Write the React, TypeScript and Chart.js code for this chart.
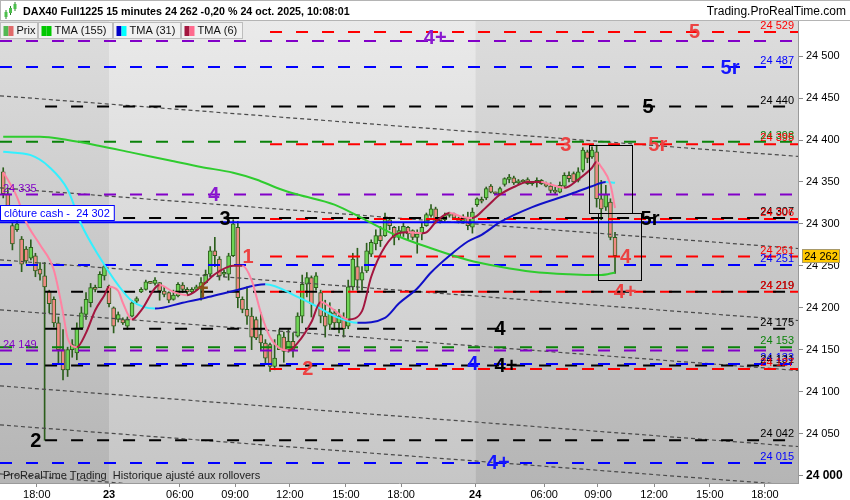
import React, { useEffect, useRef } from 'react';
import { Chart, registerables } from 'chart.js';

Chart.register(...registerables);

const FONT = '"Liberation Sans", Arial, Helvetica, sans-serif';

// ---------- price bars (15 minutes), index 0 = 22 oct 16:00 ----------
const candleOpen = [
  24362, 24336, 24298, 24293, 24282, 24270, 24259, 24262, 24246, 24238, 24220, 24210, 24182, 24150, 24126, 24150, 24146, 24176, 24192, 24206, 24224, 24224, 24238, 24226,
  24200, 24186, 24186, 24178, 24190, 24208, 24219, 24222, 24230, 24229, 24230, 24220, 24218, 24210, 24214, 24227, 24222, 24219, 24222, 24225, 24230, 24240, 24268, 24258, 24240, 24240,
  24262, 24296, 24210, 24198, 24190, 24186, 24168, 24158, 24156, 24130, 24150, 24165, 24150, 24160, 24166, 24190, 24228, 24236, 24224, 24218, 24190, 24180, 24194, 24182, 24188,
  24178, 24225, 24249, 24233, 24244, 24264, 24276, 24286, 24286, 24305, 24296, 24284, 24290, 24296, 24292, 24284, 24288, 24298, 24310, 24318, 24306, 24305, 24310, 24312, 24307,
  24303, 24308, 24296,
  24323, 24329, 24331, 24345, 24337, 24336, 24347, 24353, 24355, 24349, 24351, 24353, 24348, 24349, 24352, 24348, 24345, 24340, 24338, 24345, 24358, 24360, 24352, 24364,
  24386, 24380, 24386, 24330, 24320, 24326, 24284,
];
const candleHigh = [
  24367, 24341, 24301, 24305, 24285, 24273, 24281, 24265, 24254, 24254, 24221, 24213, 24189, 24174, 24153, 24162, 24182, 24201, 24218, 24229, 24227, 24243, 24251, 24227,
  24201, 24195, 24188, 24189, 24209, 24213, 24224, 24233, 24231, 24236, 24230, 24225, 24219, 24221, 24230, 24230, 24224, 24224, 24227, 24236, 24245, 24273, 24284, 24261, 24245, 24265,
  24305, 24303, 24213, 24225, 24200, 24189, 24194, 24162, 24158, 24162, 24174, 24171, 24174, 24170, 24194, 24239, 24242, 24238, 24242, 24221, 24209, 24206, 24198, 24198, 24194,
  24233, 24265, 24271, 24249, 24277, 24281, 24293, 24297, 24313, 24308, 24297, 24297, 24301, 24297, 24293, 24293, 24301, 24313, 24323, 24320, 24308, 24313, 24314, 24313, 24308,
  24311, 24314, 24319,
  24331, 24332, 24344, 24347, 24338, 24344, 24355, 24359, 24357, 24353, 24353, 24355, 24350, 24355, 24353, 24350, 24349, 24344, 24350, 24361, 24362, 24362, 24367, 24391,
  24388, 24392, 24394, 24352, 24346, 24330, 24290,
];
const candleLow = [
  24331, 24313, 24269, 24291, 24243, 24253, 24257, 24237, 24233, 24042, 24194, 24177, 24134, 24114, 24118, 24141, 24138, 24174, 24186, 24201, 24219, 24224, 24233, 24201,
  24170, 24183, 24180, 24174, 24189, 24206, 24218, 24221, 24229, 24227, 24209, 24213, 24206, 24209, 24213, 24218, 24215, 24218, 24221, 24209, 24229, 24237, 24249, 24233, 24237, 24233,
  24261, 24200, 24194, 24180, 24150, 24162, 24150, 24134, 24124, 24126, 24150, 24135, 24147, 24141, 24165, 24182, 24213, 24189, 24221, 24182, 24165, 24174, 24174, 24170, 24165,
  24175, 24221, 24221, 24221, 24242, 24261, 24269, 24273, 24285, 24293, 24275, 24281, 24285, 24281, 24281, 24265, 24281, 24297, 24308, 24301, 24301, 24303, 24308, 24305, 24301,
  24301, 24293, 24289,
  24321, 24325, 24329, 24337, 24335, 24335, 24345, 24349, 24347, 24347, 24349, 24347, 24346, 24344, 24347, 24344, 24337, 24335, 24337, 24343, 24350, 24349, 24350, 24362,
  24373, 24378, 24320, 24305, 24316, 24281, 24241,
];
const candleClose = [
  24336, 24318, 24276, 24300, 24252, 24256, 24272, 24244, 24240, 24225, 24205, 24182, 24150, 24126, 24150, 24156, 24176, 24194, 24210, 24224, 24222, 24240, 24249, 24205,
  24178, 24192, 24182, 24186, 24206, 24211, 24222, 24231, 24229, 24233, 24220, 24216, 24209, 24215, 24228, 24222, 24219, 24222, 24225, 24230, 24240, 24268, 24262, 24238, 24242, 24262,
  24300, 24212, 24198, 24190, 24165, 24164, 24158, 24140, 24130, 24140, 24168, 24148, 24160, 24150, 24190, 24228, 24236, 24205, 24238, 24190, 24178, 24195, 24182, 24190, 24175,
  24225, 24258, 24233, 24242, 24268, 24278, 24286, 24280, 24306, 24298, 24284, 24292, 24297, 24288, 24284, 24288, 24296, 24311, 24318, 24306, 24304, 24310, 24312, 24307, 24303,
  24308, 24298, 24314,
  24330, 24327, 24342, 24338, 24336, 24342, 24354, 24356, 24349, 24351, 24350, 24348, 24349, 24352, 24348, 24345, 24340, 24338, 24346, 24358, 24354, 24350, 24362, 24388,
  24378, 24388, 24330, 24318, 24335, 24284, 24262,
];

// ---------- moving averages (read at bar indices) ----------
const tma6Bar = [0, 3, 5, 8, 11, 13, 14, 16, 18, 20, 22, 23, 25, 26, 28, 30, 34, 37, 40, 43, 46, 50, 52, 54, 56, 58, 60, 62, 64, 67, 69, 72, 75, 78, 80, 83, 86, 88, 91, 92, 94, 97, 100, 102, 105, 108, 111, 114, 117, 119, 122, 125, 128, 129, 130, 132, 133];
const tma6Val = [24362, 24332, 24302, 24275, 24245, 24194, 24164, 24153, 24170, 24197, 24215, 24225, 24220, 24206, 24186, 24197, 24227, 24219, 24215, 24225, 24240, 24250, 24250, 24233, 24194, 24165, 24152, 24149, 24158, 24183, 24207, 24197, 24186, 24196, 24237, 24273, 24289, 24290, 24289, 24290, 24302, 24313, 24308, 24307, 24320, 24335, 24344, 24350, 24350, 24347, 24343, 24353, 24367, 24374, 24368, 24347, 24319];
const tma31Bar = [0, 6, 10, 14, 17, 21, 25, 28, 33, 39, 44, 50, 57, 64, 68, 72, 77, 83, 86, 90, 93, 97, 101, 104, 108, 115, 123, 128, 131, 133];
const tma31Val = [24386, 24382, 24368, 24341, 24299, 24260, 24227, 24208, 24199, 24206, 24212, 24220, 24228, 24213, 24202, 24190, 24182, 24188, 24205, 24223, 24242, 24262, 24279, 24287, 24302, 24320, 24335, 24345, 24350, 24349];
const tma155Bar = [0, 8, 14, 21, 28, 36, 43, 50, 55, 60, 64, 72, 79, 86, 93, 101, 108, 115, 123, 130, 133];
const tma155Val = [24404, 24404, 24400, 24393, 24385, 24376, 24368, 24361, 24353, 24342, 24335, 24323, 24304, 24285, 24271, 24257, 24249, 24243, 24240, 24239, 24242];

// ---------- axes ----------
const xTickValues = [8, 23.7, 39.1, 51.1, 63, 75.2, 87.2, 103.3, 118.3, 130, 142.2, 154.3, 166.3];
const xTickLabels = ['18:00', '23', '06:00', '09:00', '12:00', '15:00', '18:00', '24', '06:00', '09:00', '12:00', '15:00', '18:00'];
const yTickValues = [24000, 24050, 24100, 24150, 24200, 24250, 24300, 24350, 24400, 24450, 24500];
const sessionBreaks = [23.7, 103.3];

// ---------- horizontal levels ----------
const levelValue = [24529, 24518, 24487, 24440, 24398, 24395, 24335, 24307, 24306, 24302, 24261, 24251, 24219, 24219, 24175, 24153, 24149, 24133, 24131, 24127, 24042, 24015];
const levelKind = ['red', 'purple', 'blue', 'black', 'green', 'red', 'purple', 'black', 'red', 'cash', 'red', 'blue', 'black', 'red', 'black', 'green', 'purple', 'blue', 'black', 'red', 'black', 'blue'];
const levelFromBar = [58.7, 0, 0, 9.8, 0, 58.7, 0, 9.8, 58.7, 0, 58.7, 0, 9.8, 58.7, 9.8, 0, 0, 0, 9.8, 58.7, 9.8, 0];
const levelTag = ['right', 'none', 'right', 'right', 'right', 'right', 'left', 'right', 'right', 'cash', 'right', 'right', 'right', 'right', 'right', 'right', 'left', 'right', 'right', 'right', 'right', 'right'];

// ---------- channel lines ----------
const trendStartValue = [24452.8, 24343.0, 24257.1, 24197.5, 24106.8, 24060.3, 24001.8];
const trendEndValue = [24380.5, 24270.7, 24184.8, 24125.2, 24034.5, 23988.0, 23929.5];

// ---------- wave labels ----------
const waveText = ['4+', '5', '5r', '5', '3', '5r', '4', '3', '5r', '1', '4', '4+', '4', '4', '4+', '2', '2', '4+'];
const waveKind = ['purple', 'red', 'blue', 'black', 'red', 'red', 'purple', 'black', 'black', 'red', 'red', 'red', 'black', 'blue', 'black', 'red', 'black', 'blue'];
const waveBar = [94.6, 151, 158.7, 140.9, 123, 143, 46.5, 48.9, 141.3, 53.9, 136, 135.9, 108.7, 102.8, 110, 66.9, 7.8, 108.3];
const wavePrice = [24522, 24529, 24487, 24440, 24395, 24395, 24335, 24307, 24307, 24261, 24261, 24219, 24175, 24133, 24131, 24127, 24042, 24015];

// ---------- boxes ----------
const boxFromBar = [128.0, 130.0];
const boxToBar = [137.4, 139.3];
const boxTop = [24394, 24313];
const boxBottom = [24313, 24233];

const markBar = 44.1;
const markTop = 24230;
const markBottom = 24212;
const markCross = 24224;

const X_MAX = 173.48;
const Y_MIN = 23991;
const Y_MAX = 24542;
const BAR_OFFSET = 0.7;

const LINE_COLOR: Record<string, string> = {
  red: '#ff0000', black: '#000000', blue: '#0000ff', green: '#0a820a', purple: '#8200c8', cash: '#0000ff',
};
const WAVE_COLOR: Record<string, string> = {
  red: '#ec4242', black: '#000000', blue: '#1414ff', purple: '#8a1ad0',
};
const UP = '#6fd456';
const DOWN = '#f08a84';
const OUTLINE = '#2c5e1c';

const fmt = (v: number) => {
  const s = String(Math.round(v));
  return s.slice(0, s.length - 3) + ' ' + s.slice(-3);
};

const prtPlugin = {
  id: 'prt',
  beforeDraw(chart: any) {
    const { ctx, chartArea: a, scales } = chart;
    const x = scales.x;
    ctx.save();
    ctx.fillStyle = '#ffffff';
    ctx.fillRect(0, 0, chart.width, chart.height);
    const dark = ctx.createLinearGradient(0, a.top, 0, a.bottom);
    dark.addColorStop(0, '#dddddd');
    dark.addColorStop(1, '#b5b5b5');
    const light = ctx.createLinearGradient(0, a.top, 0, a.bottom);
    light.addColorStop(0, '#eaeaea');
    light.addColorStop(1, '#c6c6c6');
    const b1 = x.getPixelForValue(sessionBreaks[0]);
    const b2 = x.getPixelForValue(sessionBreaks[1]);
    ctx.fillStyle = dark;
    ctx.fillRect(a.left, a.top, b1 - a.left, a.bottom - a.top);
    ctx.fillRect(b2, a.top, a.right - b2, a.bottom - a.top);
    ctx.fillStyle = light;
    ctx.fillRect(b1, a.top, b2 - b1, a.bottom - a.top);
    ctx.restore();
  },
  afterDatasetsDraw(chart: any) {
    const { ctx, chartArea: a, scales } = chart;
    const x = scales.x;
    const y = scales.y;
    ctx.save();
    ctx.beginPath();
    ctx.rect(a.left, a.top, a.right - a.left, a.bottom - a.top);
    ctx.clip();

    // boxes
    ctx.strokeStyle = '#000';
    ctx.lineWidth = 1;
    for (let i = 0; i < boxFromBar.length; i++) {
      const x1 = Math.round(x.getPixelForValue(boxFromBar[i])) + 0.5;
      const x2 = Math.round(x.getPixelForValue(boxToBar[i])) + 0.5;
      const y1 = Math.round(y.getPixelForValue(boxTop[i])) + 0.5;
      const y2 = Math.round(y.getPixelForValue(boxBottom[i])) + 0.5;
      ctx.strokeRect(x1, y1, x2 - x1, y2 - y1);
    }

    // brown mark
    const mx = x.getPixelForValue(markBar);
    ctx.strokeStyle = '#8a5418';
    ctx.lineWidth = 2.5;
    ctx.beginPath();
    ctx.moveTo(mx, y.getPixelForValue(markTop));
    ctx.lineTo(mx, y.getPixelForValue(markBottom));
    ctx.moveTo(mx - 5, y.getPixelForValue(markCross));
    ctx.lineTo(mx + 5, y.getPixelForValue(markCross));
    ctx.stroke();

    // level labels
    ctx.font = `11px ${FONT}`;
    ctx.textBaseline = 'alphabetic';
    for (let i = 0; i < levelValue.length; i++) {
      const py = y.getPixelForValue(levelValue[i]);
      const col = LINE_COLOR[levelKind[i]];
      if (levelTag[i] === 'right') {
        ctx.fillStyle = col;
        ctx.textAlign = 'right';
        ctx.fillText(fmt(levelValue[i]), a.right - 4, py - 3);
      } else if (levelTag[i] === 'left') {
        ctx.fillStyle = col;
        ctx.textAlign = 'left';
        ctx.fillText(fmt(levelValue[i]), a.left + 3, py - 3);
      } else if (levelTag[i] === 'cash') {
        const txt = 'clôture cash -  ' + fmt(levelValue[i]);
        const w = ctx.measureText(txt).width;
        const top = Math.round(py) - 16.5;
        ctx.fillStyle = '#ffffff';
        ctx.fillRect(a.left + 0.5, top, w + 8, 15);
        ctx.strokeStyle = '#0000ff';
        ctx.lineWidth = 1;
        ctx.strokeRect(a.left + 0.5, top, w + 8, 15);
        ctx.fillStyle = '#0000ff';
        ctx.textAlign = 'left';
        ctx.fillText(txt, a.left + 4, top + 11.5);
      }
    }

    // wave labels
    ctx.font = `bold 20px ${FONT}`;
    ctx.textAlign = 'center';
    ctx.textBaseline = 'middle';
    for (let i = 0; i < waveText.length; i++) {
      ctx.fillStyle = WAVE_COLOR[waveKind[i]];
      ctx.fillText(waveText[i], x.getPixelForValue(waveBar[i]), y.getPixelForValue(wavePrice[i]) + 1);
    }

    // footer text
    ctx.font = `11px ${FONT}`;
    ctx.textAlign = 'left';
    ctx.textBaseline = 'middle';
    ctx.fillStyle = '#222';
    ctx.fillText('ProRealTime Trading  Historique ajusté aux rollovers', a.left + 3, a.bottom - 7);
    ctx.restore();
  },
  afterDraw(chart: any) {
    const { ctx, scales } = chart;
    const y = scales.y;
    ctx.save();
    // header bar
    ctx.fillStyle = '#ffffff';
    ctx.fillRect(0, 0, chart.width, 21);
    ctx.strokeStyle = '#b4b4b4';
    ctx.lineWidth = 1;
    ctx.beginPath();
    ctx.moveTo(0, 0.5); ctx.lineTo(chart.width, 0.5);
    ctx.moveTo(0, 20.5); ctx.lineTo(chart.width, 20.5);
    ctx.moveTo(0.5, 0); ctx.lineTo(0.5, 21);
    ctx.stroke();
    // icon
    const icon = [[6, 10, 19, 12, 17], [10.5, 6, 15, 8, 13], [15, 2, 11, 4, 9]];
    for (const c of icon) {
      ctx.strokeStyle = '#2b7a2b';
      ctx.beginPath();
      ctx.moveTo(c[0], c[1]); ctx.lineTo(c[0], c[2]); ctx.stroke();
      ctx.fillStyle = '#4cc04c';
      ctx.fillRect(c[0] - 1.5, c[3], 3, c[4] - c[3]);
    }
    ctx.fillStyle = '#000';
    ctx.textBaseline = 'middle';
    ctx.textAlign = 'left';
    ctx.font = `bold 10.7px ${FONT}`;
    ctx.fillText('DAX40 Full1225 15 minutes 24 262 -0,20 % 24 oct. 2025, 10:08:01', 23, 12);
    ctx.font = `12px ${FONT}`;
    ctx.textAlign = 'right';
    ctx.fillText('Trading.ProRealTime.com', 846, 12);

    // legend boxes
    const legend = [
      { x0: 0.5, x1: 37.5, text: 'Prix', c1: '#52b852', c2: '#e06a6a' },
      { x0: 38.5, x1: 112.5, text: 'TMA (155)', c1: '#00c800', c2: '#00c800' },
      { x0: 113.5, x1: 180.5, text: 'TMA (31)', c1: '#0000c8', c2: '#00ffff' },
      { x0: 181.5, x1: 242.5, text: 'TMA (6)', c1: '#a3163f', c2: '#ff6a8e' },
    ];
    ctx.font = `11px ${FONT}`;
    ctx.textAlign = 'left';
    for (const l of legend) {
      ctx.fillStyle = '#f1f1f1';
      ctx.fillRect(l.x0, 22.5, l.x1 - l.x0, 16);
      ctx.strokeStyle = '#bdbdbd';
      ctx.strokeRect(l.x0, 22.5, l.x1 - l.x0, 16);
      ctx.fillStyle = l.c1;
      ctx.fillRect(l.x0 + 3, 26, 5, 10);
      ctx.fillStyle = l.c2;
      ctx.fillRect(l.x0 + 8, 26, 5, 10);
      ctx.fillStyle = '#111';
      ctx.fillText(l.text, l.x0 + 16, 31);
    }

    // last price marker
    const lastVal = candleClose[candleClose.length - 1];
    const py = Math.round(y.getPixelForValue(lastVal));
    ctx.fillStyle = '#ffc800';
    ctx.fillRect(802.5, py - 6.5, 37, 13);
    ctx.strokeStyle = '#a89a6a';
    ctx.strokeRect(802.5, py - 6.5, 37, 13);
    ctx.fillStyle = '#000';
    ctx.textAlign = 'center';
    ctx.font = `11px ${FONT}`;
    ctx.fillText(fmt(lastVal), 821, py + 0.5);
    ctx.restore();
  },
};

export default function App() {
  const ref = useRef<HTMLCanvasElement>(null);

  useEffect(() => {
    const canvas = ref.current;
    if (!canvas) return;

    const datasets: any[] = [];
    const pts = (bars: number[], vals: number[]) => bars.map((b, i) => ({ x: b + BAR_OFFSET, y: vals[i] }));

    datasets.push({
      type: 'line', label: 'TMA (6)', data: pts(tma6Bar, tma6Val), borderWidth: 2, pointRadius: 0,
      cubicInterpolationMode: 'monotone', borderColor: '#a3163f', order: 0,
      segment: { borderColor: (c: any) => (c.p1.parsed.y >= c.p0.parsed.y ? '#a3163f' : '#ff82a2') },
    });
    datasets.push({
      type: 'line', label: 'TMA (31)', data: pts(tma31Bar, tma31Val), borderWidth: 2, pointRadius: 0,
      cubicInterpolationMode: 'monotone', borderColor: '#1010c8', order: 0,
      segment: { borderColor: (c: any) => (c.p1.parsed.y >= c.p0.parsed.y ? '#1010c8' : '#33f0ff') },
    });
    datasets.push({
      type: 'line', label: 'TMA (155)', data: pts(tma155Bar, tma155Val), borderWidth: 2, pointRadius: 0,
      cubicInterpolationMode: 'monotone', borderColor: '#2fcc2f', order: 0,
    });

    levelValue.forEach((v, i) => {
      datasets.push({
        type: 'line', data: [{ x: levelFromBar[i], y: v }, { x: X_MAX, y: v }],
        borderColor: LINE_COLOR[levelKind[i]], borderWidth: 2,
        borderDash: levelKind[i] === 'cash' ? [] : [12, 14], pointRadius: 0, order: 1,
      });
    });

    trendStartValue.forEach((v, i) => {
      datasets.push({
        type: 'line', data: [{ x: 0, y: v }, { x: X_MAX, y: trendEndValue[i] }],
        borderColor: '#4a4a4a', borderWidth: 1.2, borderDash: [4, 3], pointRadius: 0, order: 2,
      });
    });

    datasets.push({
      type: 'bar', label: 'body',
      data: candleOpen.map((o, i) => ({ x: i + BAR_OFFSET, y: [o, candleClose[i]] })),
      backgroundColor: (c: any) => (candleClose[c.dataIndex] >= candleOpen[c.dataIndex] ? UP : DOWN),
      borderColor: OUTLINE, borderWidth: 1, borderSkipped: false, barThickness: 4,
      minBarLength: 2, grouped: false, order: 3,
    });
    datasets.push({
      type: 'bar', label: 'wick',
      data: candleLow.map((l, i) => ({ x: i + BAR_OFFSET, y: [l, candleHigh[i]] })),
      backgroundColor: OUTLINE, borderWidth: 0, barThickness: 1, grouped: false, order: 4,
    });

    const chart = new Chart(canvas, {
      type: 'bar',
      data: { datasets },
      options: {
        animation: false,
        responsive: false,
        events: [],
        layout: { padding: { top: 21, left: 0, right: 0, bottom: 0 } },
        plugins: { legend: { display: false }, tooltip: { enabled: false } },
        scales: {
          x: {
            type: 'linear', min: 0, max: X_MAX, offset: false,
            grid: { drawOnChartArea: false, drawTicks: true, tickLength: 4, color: '#8a8a8a', offset: false },
            border: { display: true, color: '#9a9a9a' },
            afterBuildTicks: (s: any) => { s.ticks = xTickValues.map((v) => ({ value: v })); },
            afterFit: (s: any) => { s.height = 17; },
            ticks: {
              autoSkip: false, maxRotation: 0, minRotation: 0, padding: 1, color: '#000',
              callback: (_v: any, idx: number) => xTickLabels[idx],
              font: (c: any) => ({ family: FONT, size: 11, weight: xTickLabels[c.index] && xTickLabels[c.index].length === 2 ? 'bold' : 'normal' }),
            },
          },
          y: {
            type: 'linear', position: 'right', min: Y_MIN, max: Y_MAX,
            grid: { drawOnChartArea: false, drawTicks: true, tickLength: 5, color: '#8a8a8a' },
            border: { display: true, color: '#9a9a9a' },
            afterBuildTicks: (s: any) => { s.ticks = yTickValues.map((v) => ({ value: v })); },
            afterFit: (s: any) => { s.width = 52; },
            ticks: {
              autoSkip: false, padding: 3, color: '#000',
              callback: (v: any) => fmt(Number(v)),
              font: (c: any) => (c.tick && c.tick.value === 24000
                ? { family: FONT, size: 12, weight: 'bold' }
                : { family: FONT, size: 11, weight: 'normal' }),
            },
          },
        },
      } as any,
      plugins: [prtPlugin],
    } as any);

    return () => chart.destroy();
  }, []);

  return (
    <div style={{ position: 'fixed', left: 0, top: 0, width: 850, height: 500, background: '#fff' }}>
      <canvas ref={ref} width={850} height={500} style={{ display: 'block', width: 850, height: 500 }} />
    </div>
  );
}
